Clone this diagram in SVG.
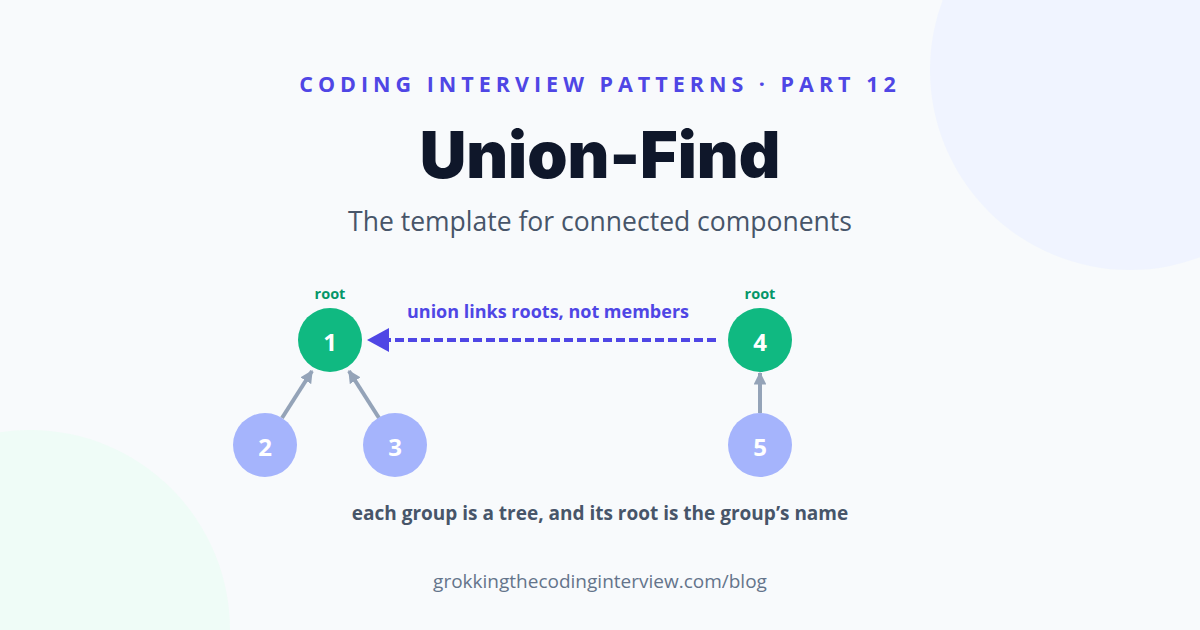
<svg xmlns="http://www.w3.org/2000/svg" width="1200" height="630" viewBox="0 0 1200 630">
<defs>
<style>
.root{font-family:"Open Sans","Noto Sans",sans-serif;font-weight:700;font-size:14.5px;fill:#059669;text-anchor:middle}
.num{font-family:"Open Sans","Noto Sans",sans-serif;font-weight:700;font-size:24px;fill:#ffffff;text-anchor:middle;dominant-baseline:central}
.rootc{fill:#10b981}
.memc{fill:#a5b4fc}
.edge{stroke:#94a3b8;stroke-width:4;fill:none}
</style>
<marker id="ga" viewBox="0 0 10 10" refX="9" refY="5" markerWidth="3.2" markerHeight="3.2" orient="auto"><path d="M0,0 L10,5 L0,10 z" fill="#94a3b8"/></marker>
</defs>
<rect width="1200" height="630" fill="#f8fafc"/>
<circle cx="1130" cy="70" r="200" fill="#eef2ff" opacity="0.8"/>
<circle cx="30" cy="630" r="200" fill="#ecfdf5" opacity="0.8"/>
<text x="600" y="92" text-anchor="middle" font-family="'Open Sans','Noto Sans',sans-serif" font-weight="700" font-size="21.5" letter-spacing="5" fill="#4f46e5">CODING INTERVIEW PATTERNS · PART 12</text>
<text x="600" y="178" text-anchor="middle" font-family="Inter,'Noto Sans',sans-serif" font-weight="900" font-size="64.5" fill="#0f172a">Union-Find</text>
<text x="600" y="231" text-anchor="middle" font-family="'Open Sans','Noto Sans',sans-serif" font-size="26.5" fill="#475569">The template for connected components</text>
<g id="connectors">
<line class="edge" x1="282" y1="418" x2="312" y2="371" marker-end="url(#ga)"/>
<line class="edge" x1="379" y1="418" x2="349" y2="371" marker-end="url(#ga)"/>
<line class="edge" x1="760" y1="413" x2="760" y2="373" marker-end="url(#ga)"/>
<line x1="716" y1="340" x2="385" y2="340" stroke="#4f46e5" stroke-width="4" stroke-dasharray="9 4"/>
<path d="M367,340 L389,328 L389,352 z" fill="#4f46e5"/>
<text x="548" y="318" text-anchor="middle" font-family="'Open Sans','Noto Sans',sans-serif" font-weight="700" font-size="18" fill="#4f46e5">union links roots, not members</text>
</g>
<g id="node1"><text class="root" x="330" y="299">root</text><circle class="rootc" cx="330" cy="340" r="32"/><text class="num" x="330" y="341">1</text></g>
<g id="node2"><circle class="memc" cx="265" cy="445" r="32"/><text class="num" x="265" y="446">2</text></g>
<g id="node3"><circle class="memc" cx="395" cy="445" r="32"/><text class="num" x="395" y="446">3</text></g>
<g id="node4"><text class="root" x="760" y="299">root</text><circle class="rootc" cx="760" cy="340" r="32"/><text class="num" x="760" y="341">4</text></g>
<g id="node5"><circle class="memc" cx="760" cy="445" r="32"/><text class="num" x="760" y="446">5</text></g>
<text x="600" y="520" text-anchor="middle" font-family="'Open Sans','Noto Sans',sans-serif" font-weight="700" font-size="19" fill="#475569">each group is a tree, and its root is the group’s name</text>
<text x="600" y="588" text-anchor="middle" font-family="'Open Sans','Noto Sans',sans-serif" font-size="19" fill="#64748b">grokkingthecodinginterview.com/blog</text>
</svg>
